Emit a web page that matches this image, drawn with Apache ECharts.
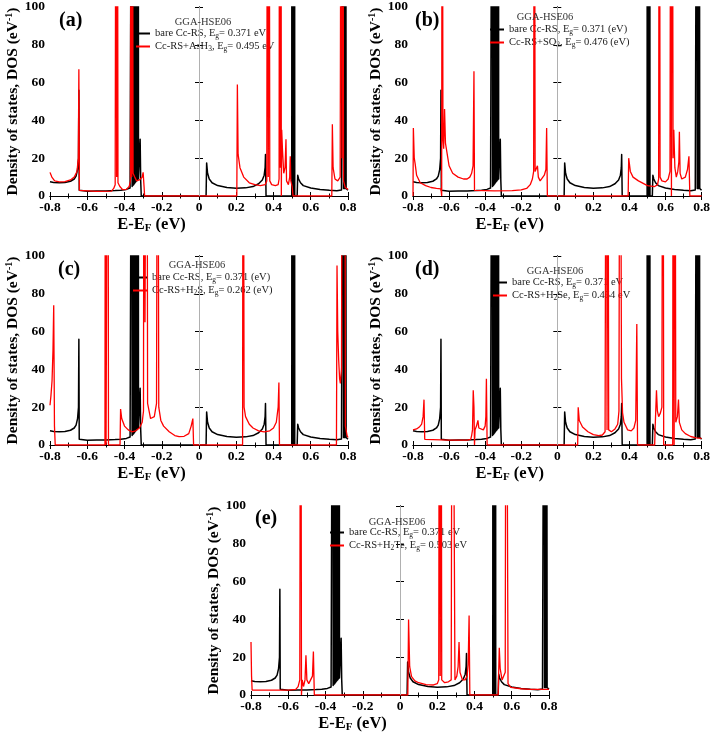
<!DOCTYPE html>
<html>
<head>
<meta charset="utf-8">
<script src="https://cdn.jsdelivr.net/npm/echarts@6/dist/echarts.min.js"></script>
<style>html,body{margin:0;padding:0;background:#fff;}#chart{width:713px;height:740px;}</style>
</head>
<body>
<div id="chart"></div>
<script>
// ---- data (x in eV, y = DOS in 1/eV; values above 100 run off the top of the frame) ----
const xTicks = [-0.8, -0.6, -0.4, -0.2, 0, 0.2, 0.4, 0.6, 0.8];
const yTicks = [0, 20, 40, 60, 80, 100];

const bareCcRS = [
[-0.8,7.5],[-0.78,7.1],[-0.75,7.0],[-0.72,7.2],[-0.69,7.8],[-0.67,9],[-0.66,10.5],[-0.652,14],[-0.647,20],[-0.645,56],[-0.643,3],[-0.64,2.5],[-0.6,2.5],[-0.55,2.6],[-0.5,2.7],[-0.45,2.9],[-0.42,3.1],[-0.39,3.5],[-0.37,4.2],[-0.362,5],
[-0.361,5],[-0.360,300],[-0.359,5],[-0.358,300],[-0.357,5.5],[-0.356,300],[-0.355,5.5],[-0.354,300],[-0.353,6],[-0.352,300],[-0.351,6],[-0.350,300],[-0.349,6.5],[-0.348,300],[-0.347,6.5],[-0.346,300],[-0.345,7],[-0.344,300],[-0.343,7],[-0.342,300],[-0.341,7.5],[-0.340,300],[-0.339,7.5],[-0.338,300],[-0.337,8],[-0.336,300],[-0.335,8],[-0.334,300],[-0.333,8.5],[-0.332,300],[-0.331,8.5],[-0.330,300],[-0.329,9],[-0.328,300],[-0.327,9],[-0.326,300],[-0.325,9],
[-0.322,9],[-0.319,10],[-0.316,30],[-0.313,8],[-0.31,0],
[0.038,0],[0.041,17.5],[0.046,12],[0.055,9],[0.07,7],[0.1,5.5],[0.15,4.5],[0.2,4.1],[0.25,4.3],[0.29,5],[0.32,6.5],[0.34,8.5],[0.35,11],[0.355,15],[0.357,22],[0.36,0],
[0.498,0],[0.499,300],[0.5,0],[0.501,300],[0.502,0],[0.503,300],[0.504,0],[0.505,300],[0.506,0],[0.507,300],[0.508,0],[0.509,300],[0.51,0],[0.511,300],[0.512,0],[0.513,300],[0.514,0],[0.527,0],[0.53,11],[0.535,9],[0.545,7],[0.56,5.5],[0.6,4.2],[0.65,3.4],[0.7,3],[0.74,2.8],[0.765,3.2],[0.772,4],
[0.775,300],[0.776,4],[0.777,300],[0.778,4],[0.779,300],[0.78,4],[0.781,300],[0.782,4],[0.783,300],[0.784,4],[0.785,300],[0.786,4],[0.787,300],[0.79,4],[0.8,3]
];

const ccRS_AsH3 = [
[-0.8,12.5],[-0.79,10],[-0.775,8],[-0.75,7.5],[-0.72,7.6],[-0.69,8.5],[-0.67,10],[-0.655,13],[-0.648,20],[-0.645,67],[-0.642,3],[-0.638,2.5],[-0.55,2.5],[-0.47,2.6],[-0.458,4],[-0.45,6],[-0.445,300],[-0.442,10],[-0.439,300],[-0.435,7],[-0.425,5],[-0.41,3.4],[-0.39,3.5],[-0.375,5],[-0.368,8],[-0.365,300],[-0.361,10],[-0.358,300],[-0.354,12],[-0.345,10],[-0.335,8],[-0.32,8.5],[-0.305,10],[-0.3,12.5],[-0.295,5],[-0.292,0],
[0.203,0],[0.206,59],[0.21,22],[0.22,15],[0.24,10],[0.27,7],[0.3,6],[0.33,5.5],[0.355,6],[0.364,8],[0.368,300],[0.372,10],[0.376,300],[0.38,8],[0.39,6],[0.41,5.5],[0.425,6],[0.43,9],[0.433,300],[0.437,15],[0.44,300],[0.442,0],[0.444,35],[0.448,25],[0.455,12],[0.462,15],[0.467,30],[0.47,8],[0.48,6],[0.487,10],[0.49,21],[0.493,8],[0.5,5],[0.505,0],
[0.713,0],[0.716,38],[0.72,15],[0.73,9],[0.745,8],[0.758,10],[0.764,300],[0.768,20],[0.772,300],[0.776,8],[0.785,4.5],[0.8,3.5]
];

const ccRS_SO3 = [
[-0.8,0],[-0.798,36],[-0.793,20],[-0.788,17],[-0.78,11],[-0.76,7],[-0.73,5.5],[-0.7,4.5],[-0.67,4],[-0.645,3.8],[-0.641,0],[-0.638,300],[-0.634,30],[-0.63,25],[-0.625,46],[-0.62,28],[-0.6,16],[-0.58,12],[-0.55,10],[-0.52,9],[-0.5,9],[-0.485,10],[-0.475,12],[-0.467,16],[-0.462,66],[-0.459,3],[-0.455,2.8],[-0.35,2.7],[-0.25,2.8],[-0.2,3.2],[-0.17,4],[-0.15,6],[-0.138,9],[-0.131,13],[-0.127,300],[-0.123,13],[-0.116,12],[-0.11,16],[-0.105,10],[-0.095,8],[-0.085,8],[-0.072,11],[-0.063,14],[-0.059,36],[-0.055,0],
[0.393,0],[0.396,20],[0.405,13],[0.42,10],[0.45,8],[0.5,5.5],[0.54,5],[0.556,6],[0.562,9],[0.566,300],[0.57,10],[0.58,8],[0.6,7.5],[0.615,9],[0.625,13],[0.63,300],[0.633,0],[0.637,300],[0.642,20],[0.646,35],[0.652,15],[0.66,10],[0.668,13],[0.674,18],[0.677,34],[0.681,12],[0.69,9],[0.71,10],[0.722,14],[0.73,21],[0.735,0],[0.8,0]
];

const ccRS_H2S = [
[-0.8,21],[-0.795,26],[-0.789,34],[-0.784,50],[-0.78,74],[-0.776,10],[-0.772,0],
[-0.505,0],[-0.502,300],[-0.499,0],[-0.492,0],[-0.489,300],[-0.486,0],
[-0.424,0],[-0.421,19],[-0.415,14],[-0.4,10],[-0.38,8],[-0.36,7],[-0.34,7.5],[-0.32,9],[-0.305,12],[-0.298,18],[-0.295,300],[-0.29,65],[-0.28,300],[-0.276,22],[-0.26,14],[-0.24,15],[-0.228,22],[-0.222,300],[-0.216,20],[-0.205,13],[-0.19,10],[-0.16,7],[-0.13,5],[-0.107,4.4],[-0.08,4.6],[-0.055,6],[-0.042,10],[-0.033,14],[-0.029,0],
[0.234,0],[0.237,300],[0.242,20],[0.25,15],[0.27,11],[0.29,9],[0.32,7.5],[0.35,7],[0.38,7.5],[0.4,9],[0.415,12],[0.425,20],[0.429,33],[0.432,0],
[0.738,0],[0.741,95],[0.745,60],[0.75,45],[0.755,35],[0.759,32.6],[0.765,40],[0.771,300],[0.777,300],[0.782,300],[0.786,10],[0.795,5],[0.8,4]
];

const ccRS_H2Se = [
[-0.8,8],[-0.78,8.5],[-0.765,9.5],[-0.752,11],[-0.744,15],[-0.739,24],[-0.735,3],[-0.731,2.6],[-0.6,2.6],[-0.5,2.6],[-0.48,3],[-0.475,5],[-0.47,8],[-0.466,29],[-0.462,20],[-0.459,0],[-0.456,8],[-0.448,10],[-0.44,13],[-0.435,9],[-0.425,8],[-0.41,8],[-0.4,10],[-0.396,15],[-0.393,35],[-0.389,0],
[0.113,0],[0.116,20],[0.122,13],[0.14,9.5],[0.17,7],[0.2,5.5],[0.23,5],[0.25,5.3],[0.265,7],[0.272,300],[0.276,8],[0.28,300],[0.285,8],[0.3,7],[0.32,8.5],[0.335,11],[0.342,18],[0.348,300],[0.352,300],[0.356,35],[0.362,17],[0.37,12],[0.39,8],[0.41,7.5],[0.425,9],[0.435,13],[0.441,64],[0.445,0],
[0.54,0],[0.543,10],[0.55,29],[0.555,18],[0.562,15],[0.572,17],[0.58,20],[0.586,300],[0.59,0],[0.64,0],[0.643,300],[0.648,0],[0.652,300],[0.657,12],[0.666,15],[0.672,24],[0.677,12],[0.69,8],[0.71,6],[0.74,4.5],[0.77,3.8],[0.8,3.5]
];

const ccRS_H2Te = [
[-0.8,28],[-0.797,10],[-0.794,2.6],[-0.7,2.6],[-0.6,2.6],[-0.56,3],[-0.547,4.4],[-0.538,8],[-0.533,300],[-0.529,0],[-0.525,8],[-0.518,4.5],[-0.51,8],[-0.505,21],[-0.5,8],[-0.49,6],[-0.48,7],[-0.47,10],[-0.465,23],[-0.46,0],
[0.042,0],[0.046,40],[0.052,15],[0.062,9.7],[0.08,7.5],[0.1,6.5],[0.14,5.5],[0.18,5.3],[0.2,6],[0.208,8],[0.212,300],[0.216,10],[0.22,300],[0.224,8],[0.24,6.5],[0.26,7],[0.275,8],[0.281,300],[0.286,300],[0.291,300],[0.295,8],[0.305,10],[0.312,15],[0.317,28],[0.322,12],[0.335,8],[0.35,8],[0.36,10],[0.366,16],[0.371,42],[0.375,0],
[0.527,0],[0.533,25],[0.538,14],[0.548,8],[0.558,9],[0.565,12],[0.57,300],[0.575,300],[0.58,6],[0.595,4],[0.65,3.3],[0.7,3],[0.8,3]
];

const panelLetters = ['(a)', '(b)', '(c)', '(d)', '(e)'];
const blackNames = ['bare Cc-RS, E_g= 0.371 eV', 'bare Cc-RS, E_g= 0.371 (eV)', 'bare Cc-RS, E_g= 0.371 (eV)', 'bare Cc-RS, E_g= 0.371 eV', 'bare Cc-RS, E_g= 0.371 eV'];
const redNames = ['Cc-RS+AsH_3, E_g= 0.495 eV', 'Cc-RS+SO_3, E_g= 0.476 (eV)', 'Cc-RS+H_2S, E_g= 0.262 (eV)', 'Cc-RS+H_2Se, E_g= 0.454 eV', 'Cc-RS+H_2Te, E_g= 0.503 eV'];
const redData = [ccRS_AsH3, ccRS_SO3, ccRS_H2S, ccRS_H2Se, ccRS_H2Te];
const methodLabel = 'GGA-HSE06';

// ---- layout ----
const layout = [
  {grid:{left:50, top:7, width:298, height:189}, letter:[59,11], gga:[203,17], legend:[136,27]},
  {grid:{left:413, top:7, width:290, height:189}, letter:[415,11], gga:[545,12], legend:[490,23]},
  {grid:{left:50, top:256, width:298, height:189}, letter:[58,260], gga:[197,260], legend:[133,271]},
  {grid:{left:413, top:256, width:290, height:189}, letter:[415,260], gga:[555,266], legend:[493,276]},
  {grid:{left:251, top:506, width:298, height:189}, letter:[255,509], gga:[397,517], legend:[330,526]}
];

const SERIF = 'Liberation Serif, Times New Roman, serif';
const toRich = s => s.replace(/_(\w)/g, '{sub|$1}');

const option = {
  animation: false,
  backgroundColor: '#fff',
  grid: [], xAxis: [], yAxis: [], series: [], legend: [], title: []
};

layout.forEach((L, i) => {
  option.grid.push(L.grid);
  const axisLineStyle = {show: true, lineStyle: {color: '#000', width: 1}};
  option.xAxis.push({
    type: 'value', gridIndex: i, min: xTicks[0], max: xTicks[xTicks.length - 1], interval: 0.2,
    axisLine: axisLineStyle,
    axisTick: {show: true, inside: true, length: 4, lineStyle: {color: '#000'}},
    minorTick: {show: true, splitNumber: 2, length: 2.5, lineStyle: {color: '#000'}},
    splitLine: {show: false},
    axisLabel: {margin: 5, fontFamily: SERIF, fontWeight: 'bold', fontSize: 13.5, color: '#000'},
    name: 'E-E{sub|F} (eV)', nameLocation: 'middle', nameGap: 17,
    nameTextStyle: {fontFamily: SERIF, fontWeight: 'bold', fontSize: 16.5, color: '#000', padding: [0, 95, 0, 0],
      rich: {sub: {fontFamily: SERIF, fontWeight: 'bold', fontSize: 11, color: '#000', verticalAlign: 'bottom', padding: [8, 0, 0, 0]}}}
  });
  option.xAxis.push({
    type: 'value', gridIndex: i, position: 'top', min: xTicks[0], max: xTicks[xTicks.length - 1], interval: 0.2,
    axisLine: axisLineStyle,
    axisTick: {show: true, inside: true, length: 4, lineStyle: {color: '#000'}},
    minorTick: {show: true, splitNumber: 2, length: 2.5, lineStyle: {color: '#000'}},
    splitLine: {show: false}, axisLabel: {show: false}
  });
  option.yAxis.push({
    type: 'value', gridIndex: i, min: yTicks[0], max: yTicks[yTicks.length - 1], interval: 20,
    axisLine: axisLineStyle,
    axisTick: {show: true, inside: true, length: 4, lineStyle: {color: '#000'}},
    splitLine: {show: false},
    axisLabel: {margin: 5, fontFamily: SERIF, fontWeight: 'bold', fontSize: 13.5, color: '#000'},
    name: 'Density of states, DOS (eV{sup|-1})', nameLocation: 'middle', nameGap: 27, nameRotate: 90,
    nameTextStyle: {fontFamily: SERIF, fontWeight: 'bold', fontSize: 15.5, color: '#000',
      rich: {sup: {fontFamily: SERIF, fontWeight: 'bold', fontSize: 10, color: '#000', verticalAlign: 'top', padding: [0, 0, 6, 0]}}}
  });
  option.yAxis.push({
    type: 'value', gridIndex: i, position: 'right', min: yTicks[0], max: yTicks[yTicks.length - 1], interval: 20,
    axisLine: axisLineStyle,
    axisTick: {show: true, inside: true, length: 4, lineStyle: {color: '#000'}},
    splitLine: {show: false}, axisLabel: {show: false}
  });
  option.series.push({
    type: 'line', name: blackNames[i], xAxisIndex: 2 * i, yAxisIndex: 2 * i,
    data: bareCcRS, showSymbol: false, symbol: 'none', color: '#000',
    lineStyle: {color: '#000', width: 1.5, join: 'round'}, clip: true, z: 3,
    markLine: {silent: true, symbol: 'none', label: {show: false}, animation: false,
      lineStyle: {color: '#b0b0b0', width: 1, type: 'solid'}, data: [{xAxis: 0}]}
  });
  option.series.push({
    type: 'line', name: redNames[i], xAxisIndex: 2 * i, yAxisIndex: 2 * i,
    data: redData[i], showSymbol: false, symbol: 'none', color: '#ff0000',
    lineStyle: {color: '#ff0000', width: 1.3}, clip: true, z: 4
  });
  option.legend.push({
    data: [blackNames[i], redNames[i]], orient: 'vertical', left: L.legend[0], top: L.legend[1],
    icon: 'rect', itemWidth: 14, itemHeight: 2, itemGap: 0, padding: 0, selectedMode: false,
    formatter: toRich,
    textStyle: {fontFamily: SERIF, fontSize: 10.5, color: '#222', lineHeight: 13,
      rich: {sub: {fontFamily: SERIF, fontSize: 7.5, color: '#222', verticalAlign: 'bottom', lineHeight: 13, padding: [3, 0, 0, 0]}}}
  });
  option.title.push({
    text: panelLetters[i], left: L.letter[0], top: L.letter[1], padding: 0,
    textStyle: {fontFamily: SERIF, fontWeight: 'bold', fontSize: 20, color: '#000'}
  });
  option.title.push({
    text: methodLabel, left: L.gga[0], top: L.gga[1], padding: 0, textAlign: 'center',
    textStyle: {fontFamily: SERIF, fontWeight: 'normal', fontSize: 10.5, color: '#333'}
  });
});

const chart = echarts.init(document.getElementById('chart'), null, {renderer: 'canvas'});
chart.setOption(option);
</script>
</body>
</html>
